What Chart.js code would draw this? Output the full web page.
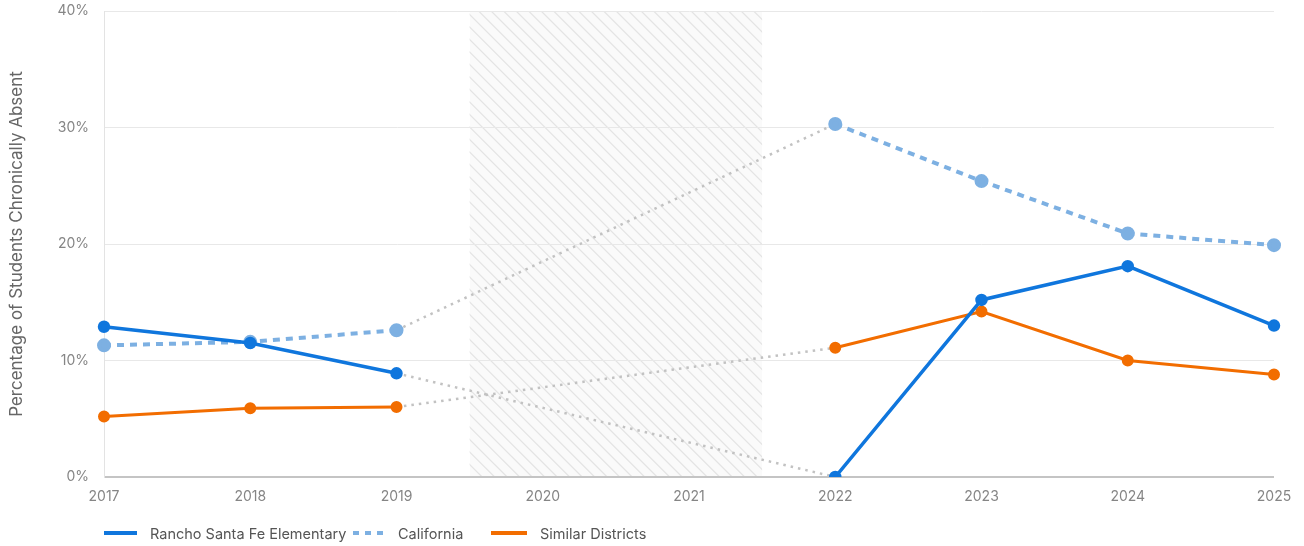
<!DOCTYPE html>
<html>
<head>
<meta charset="utf-8">
<script src="https://cdn.jsdelivr.net/npm/chart.js@4/dist/chart.umd.min.js"></script>
<style>
  html, body { margin: 0; padding: 0; background: #fff; }
  #wrap { position: relative; width: 1304px; height: 546px; }
  #legend { position: absolute; left: 0; top: 523px; width: 1304px; height: 20px;
            font-family: Inter, "Noto Sans", sans-serif; font-size: 14.5px; color: #555; }
  .item { position: absolute; top: 0; display: flex; align-items: center; height: 20px; white-space: nowrap; }
  .item svg { margin-right: 13px; }
</style>
</head>
<body>
<div id="wrap">
  <canvas id="c" width="1304" height="546"></canvas>
  <div id="legend"></div>
</div>
<script>
const years = ['2017','2018','2019','2020','2021','2022','2023','2024','2025'];
const rancho = [12.9, 11.5, 8.9, null, null, 0.0, 15.2, 18.1, 13.0];
const california = [11.3, 11.6, 12.6, null, null, 30.3, 25.4, 20.9, 19.9];
const similar = [5.2, 5.9, 6.0, null, null, 11.1, 14.2, 10.0, 8.8];
const yTicks = [0, 10, 20, 30, 40];
const seriesNames = ['Rancho Santa Fe Elementary', 'California', 'Similar Districts'];
const gapRange = ['2020', '2021'];

const colors = ['#0f76dd', '#7db0e2', '#f26d00'];
const gapColor = '#c2c2c2';

const gapSeg = (ctx) => !!(ctx.p0.skip || ctx.p1.skip);

function ds(label, data, color, width, dash, radius) {
  return {
    label, data,
    borderColor: color, backgroundColor: color,
    pointBackgroundColor: color, pointBorderColor: color,
    borderWidth: width, borderDash: dash,
    pointRadius: radius, pointHoverRadius: radius,
    tension: 0, spanGaps: true,
    segment: {
      borderColor: ctx => gapSeg(ctx) ? gapColor : undefined,
      borderDash: ctx => gapSeg(ctx) ? [2.5, 5] : undefined,
      borderWidth: ctx => gapSeg(ctx) ? 2.5 : undefined
    }
  };
}

const hatchPlugin = {
  id: 'hatch',
  beforeDraw(chart) {
    const { ctx, chartArea, scales } = chart;
    const x0 = scales.x.getPixelForValue(years.indexOf(gapRange[0]) - 0.5);
    const x1 = scales.x.getPixelForValue(years.indexOf(gapRange[1]) + 0.5);
    const top = chartArea.top, bottom = chartArea.bottom;
    ctx.save();
    ctx.beginPath();
    ctx.rect(x0, top, x1 - x0, bottom - top);
    ctx.clip();
    ctx.fillStyle = '#fafafa';
    ctx.fillRect(x0, top, x1 - x0, bottom - top);
    ctx.strokeStyle = '#e4e4e4';
    ctx.lineWidth = 1.2;
    const h = bottom - top;
    for (let s = x0 - h; s < x1 + 20; s += 12.5) {
      ctx.beginPath();
      ctx.moveTo(s, top);
      ctx.lineTo(s + h, bottom);
      ctx.stroke();
    }
    ctx.restore();
  }
};

const chart = new Chart(document.getElementById('c'), {
  type: 'line',
  data: {
    labels: years,
    datasets: [
      ds(seriesNames[0], rancho, colors[0], 3.5, [], 4.5),
      ds(seriesNames[1], california, colors[1], 4, [7, 6], 5),
      ds(seriesNames[2], similar, colors[2], 3, [], 4.5)
    ]
  },
  options: {
    responsive: false,
    animation: false,
    devicePixelRatio: 1,
    layout: { padding: { top: 0, right: 30, bottom: 34, left: 0 } },
    plugins: { legend: { display: false }, tooltip: { enabled: false } },
    scales: {
      x: {
        offset: false,
        grid: { display: false, drawTicks: false },
        border: { display: false },
        ticks: { color: '#858585', font: { family: 'Inter', size: 14 }, padding: 11, maxRotation: 0 },
        afterFit: s => { s.height = 35; }
      },
      y: {
        min: 0, max: 40,
        afterBuildTicks: s => { s.ticks = yTicks.map(v => ({ value: v })); },
        grid: {
          drawTicks: false,
          color: c => c.tick && c.tick.value === 0 ? '#c4c4c4' : '#e8e8e8',
          lineWidth: c => c.tick && c.tick.value === 0 ? 2 : 1
        },
        border: { display: true, color: '#e3e3e3', width: 1 },
        ticks: { color: '#858585', font: { family: 'Inter', size: 14 }, padding: 15,
                 callback: v => v + '%' },
        title: { display: true, text: 'Percentage of Students Chronically Absent',
                 color: '#666', font: { family: 'Inter', size: 17 }, padding: { top: 7, bottom: 0 } },
        afterFit: s => { s.width = 104; s.paddingTop = 11; s.paddingBottom = 8; }
      }
    }
  },
  plugins: [hatchPlugin]
});

const legend = document.getElementById('legend');
const legendX = [104, 353, 491];
const lineW = [33, 32, 36];
const dashes = [null, '6 6', null];
seriesNames.forEach((name, i) => {
  const it = document.createElement('div');
  it.className = 'item';
  it.style.left = legendX[i] + 'px';
  const dashAttr = dashes[i] ? ` stroke-dasharray="${dashes[i]}"` : '';
  it.innerHTML = `<svg width="${lineW[i]}" height="6"><line x1="0" y1="3" x2="${lineW[i]}" y2="3" stroke="${colors[i]}" stroke-width="4"${dashAttr}/></svg><span>${name}</span>`;
  legend.appendChild(it);
});
</script>
</body>
</html>
